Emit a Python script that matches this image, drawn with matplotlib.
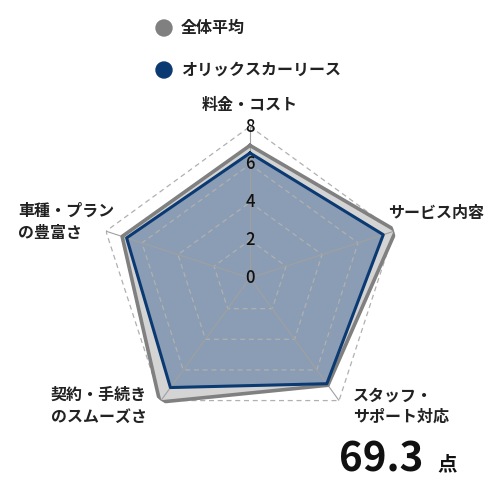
import matplotlib
matplotlib.use('Agg')
import numpy as np
import matplotlib.pyplot as plt

plt.rcParams['font.family'] = ['Noto Sans CJK JP', 'DejaVu Sans']

categories = ['料金・コスト', 'サービス内容', 'スタッフ・\nサポート対応', '契約・手続き\nのスムーズさ', '車種・プラン\nの豊富さ']
average = [7.0, 8.1, 7.0, 8.1, 7.1]
orix = [6.6, 7.4, 6.9, 7.15, 6.85]
ticks = [0, 2, 4, 6, 8]
series_names = ['全体平均', 'オリックスカーリース']
score = '69.3'

n = len(categories)
angles = np.linspace(0, 2 * np.pi, n, endpoint=False)
closed = np.append(angles, angles[0])

fig = plt.figure(figsize=(5, 5), dpi=100)
R = 151.5 / 500
cy = 1 - 278 / 500
ax = fig.add_axes([0.5 - R, cy - R, 2 * R, 2 * R], projection='polar')
ax.set_theta_offset(np.pi / 2)
ax.set_theta_direction(-1)
ax.set_ylim(0, 8)
ax.grid(False)
ax.spines['polar'].set_visible(False)
ax.set_xticks([])
ax.set_yticks([])
ax.patch.set_alpha(0)

# data
avg_c = np.append(average, average[0])
orx_c = np.append(orix, orix[0])
ax.fill(closed, avg_c, color='#d4d4d4', zorder=1)
ax.plot(closed, avg_c, color='#808080', lw=2.6, zorder=4)
ax.fill(closed, orx_c, color='#8b9db4', zorder=2)
ax.plot(closed, orx_c, color='#0b3a72', lw=2.2, zorder=5)

# polygon grid
for t in ticks[1:]:
    ax.plot(closed, [t] * (n + 1), color='#b0b0b0', lw=0.9, ls=(0, (4, 3)), zorder=3)
for a in angles:
    ax.plot([a, a], [0, 8], color='#a0a0a0', lw=0.8, zorder=3)
for t in ticks:
    ax.text(0, t, str(t), ha='center', va='center', fontsize=12, fontweight='medium',
            color='#111111', zorder=6)

def px(x, y):
    return x / 500, 1 - y / 500

lab_pos = [(250, 105, 'center'), (388, 213, 'left'), (353, 406, 'left'), (51, 406, 'left'), (18, 222, 'left')]
for lab, (x, y, ha) in zip(categories, lab_pos):
    fig.text(*px(x, y), lab, ha=ha, va='center', fontsize=11.5, fontweight='bold',
             color='#222222', linespacing=1.45)

# legend
for (y, c), name in zip([(28, '#808080'), (70, '#0b3a72')], series_names):
    fig.patches.append(matplotlib.patches.Circle(px(164, y), 8 / 500, color=c,
                                                 transform=fig.transFigure, figure=fig))
    fig.text(*px(181, y), name, ha='left', va='center', fontsize=11.5, fontweight='bold', color='#222222')

fig.text(*px(339, 460), score, ha='left', va='center', fontsize=29, fontweight='bold', color='#111111')
fig.text(*px(437, 465), '点', ha='left', va='center', fontsize=14, fontweight='bold', color='#111111')

fig.savefig('out.png', dpi=100)
